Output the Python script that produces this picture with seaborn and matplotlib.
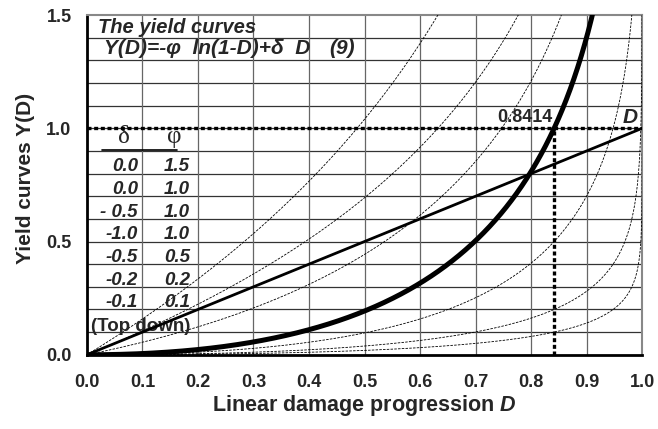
import numpy as np
import pandas as pd
import seaborn as sns
from matplotlib import pyplot as plt

# parameter sets (delta, phi) of Y(D) = -phi ln(1-D) + delta D, top down
deltas = [0.0, 0.0, -0.5, -1.0, -0.5, -0.2, -0.1]
phis = [1.5, 1.0, 1.0, 1.0, 0.5, 0.2, 0.1]
delta_labels = ['0.0', '0.0', '- 0.5', '-1.0', '-0.5', '-0.2', '-0.1']
phi_labels = ['1.5', '1.0', '1.0', '1.0', '0.5', '0.2', '0.1']
bold_curve = (-1.0, 1.0)
d_star = 0.8414

x_ticks = [0.0, 0.1, 0.2, 0.3, 0.4, 0.5, 0.6, 0.7, 0.8, 0.9, 1.0]
y_ticks = [0.0, 0.5, 1.0, 1.5]

sns.set_style('white')
plt.rcParams['font.family'] = ['Liberation Sans', 'DejaVu Sans']
plt.rcParams['mathtext.fontset'] = 'custom'
plt.rcParams['mathtext.it'] = 'Liberation Sans:italic:bold'
plt.rcParams['mathtext.rm'] = 'Liberation Sans:bold'

D = np.linspace(0, 0.99995, 4000)
rows = []
for dl, ph in zip(deltas, phis):
    Y = -ph * np.log(1 - D) + dl * D
    rows.append(pd.DataFrame({'D': D, 'Y': Y, 'delta': dl, 'phi': ph}))
curves = pd.concat(rows)

fig, ax = plt.subplots(figsize=(6.58, 4.29), dpi=100)
fig.subplots_adjust(left=0.132, right=0.976, bottom=0.173, top=0.965)

# grid
for yv in np.arange(0.1, 1.5, 0.1):
    ax.axhline(yv, color='#333333', lw=0.9, zorder=0)
for xv in np.arange(0.1, 1.0, 0.1):
    ax.axvline(xv, color='#666666', lw=0.9, zorder=0)

for (dl, ph), g in curves.groupby(['delta', 'phi']):
    if (dl, ph) == bold_curve:
        sns.lineplot(data=g, x='D', y='Y', ax=ax, color='black', lw=3.6,
                     estimator=None, sort=False, zorder=4)
    else:
        sns.lineplot(data=g, x='D', y='Y', ax=ax, color='black', lw=0.6,
                     ls=(0, (3, 1.5)), estimator=None, sort=False, zorder=3)

# straight line Y = D
sns.lineplot(x=[0, 1], y=[0, 1], ax=ax, color='black', lw=2, zorder=4)

# dotted guides
ax.plot([0, 1], [1, 1], color='black', lw=2.4, ls=(0, (1.2, 0.8)), zorder=5)
ax.plot([d_star, d_star], [0, 1], color='black', lw=2.4, ls=(0, (1.2, 0.8)), zorder=5)

fs = 13.5
bi = dict(fontsize=fs, fontweight='bold', style='italic')
ax.text(0.838, 1.012, '0.8414', fontsize=13, fontweight='bold', ha='right', va='bottom')
ax.text(0.992, 1.005, 'D', fontsize=15, fontweight='bold', style='italic', ha='right', va='bottom')

# title text
ax.text(0.02, 1.447, 'The yield curves', va='center', fontsize=14.5, fontweight='bold', style='italic')
ax.text(0.03, 1.352, 'Y(D)=-φ  ln(1-D)+δ  D', va='center', fontsize=15, fontweight='bold', style='italic')
ax.text(0.437, 1.352, '(9)', va='center', fontsize=15, fontweight='bold', style='italic')

# parameter table
ax.text(0.066, 0.963, 'δ', fontsize=18, family='Liberation Serif', ha='center', va='center')
ax.text(0.158, 0.963, 'φ', fontsize=18, family='Liberation Serif', ha='center', va='center')
ax.plot([0.027, 0.163], [0.905, 0.905], color='black', lw=1.2)
for i, (dt, pt) in enumerate(zip(delta_labels, phi_labels)):
    yy = 0.83 - 0.1 * i
    ax.text(0.092, yy, dt, ha='right', va='center', **bi)
    ax.text(0.186, yy, pt, ha='right', va='center', **bi)
ax.text(0.008, 0.125, '(Top down)', fontsize=fs, fontweight='bold', va='center')

ax.set_xlim(0, 1.0)
ax.set_ylim(0, 1.5)
ax.set_xticks(x_ticks)
ax.set_xticklabels(['%.1f' % v for v in x_ticks], fontsize=13, fontweight='bold')
ax.set_yticks(y_ticks)
ax.set_yticklabels(['%.1f' % v for v in y_ticks], fontsize=13, fontweight='bold')
ax.set_yticks(np.arange(0, 1.51, 0.1), minor=True)
ax.tick_params(axis='both', which='both', direction='out', length=5, width=0.8, color='#555555')
ax.tick_params(axis='x', pad=9)
ax.tick_params(axis='y', pad=6)

ax.set_xlabel(r'Linear damage progression $D$', fontsize=15.5, fontweight='bold', labelpad=1)
ax.set_ylabel('Yield curves Y(D)', fontsize=15, fontweight='bold')
ax.yaxis.set_label_coords(-0.093, 0.52)

for s in ['left', 'bottom']:
    ax.spines[s].set_color('black')
    ax.spines[s].set_linewidth(2)
for s in ['top', 'right']:
    ax.spines[s].set_color('#888888')
    ax.spines[s].set_linewidth(1.5)

plt.savefig('out.png', dpi=100)
